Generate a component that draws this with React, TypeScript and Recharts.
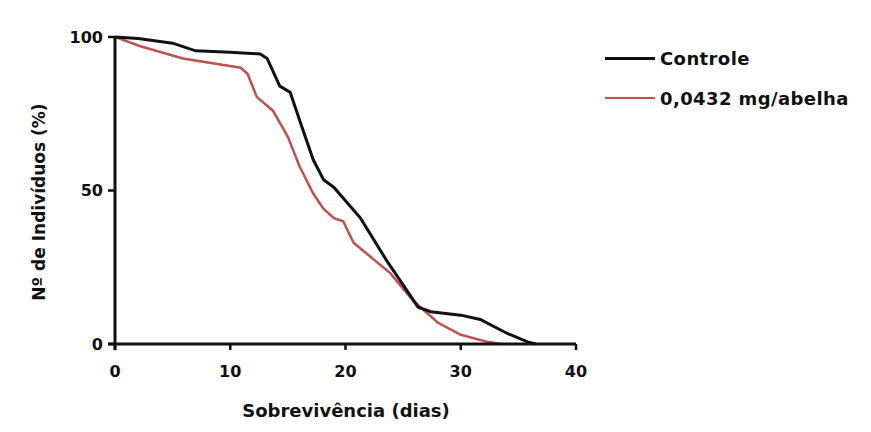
import React from "react";
import { LineChart, Line, XAxis, YAxis, ReferenceLine } from "recharts";

// survival curves (days, % alive)
const controlDays = [0, 2, 5, 7, 10, 12.6, 13.2, 14.3, 15.2, 16.1, 17.2, 18.1, 19, 21.3, 23.6, 24.5, 26.3, 27.4, 30, 31.7, 34, 35.8, 36.5];
const controlPct = [100, 99.5, 98, 95.5, 95, 94.5, 93, 84, 82, 72, 60, 53.5, 51, 41, 27, 22, 12, 10.5, 9.4, 8, 3.5, 0.7, 0];

const doseDays = [0, 2.2, 5.9, 10.9, 11.5, 12.3, 13.7, 15, 16, 17.2, 18.1, 19, 19.8, 20.7, 23.9, 25.9, 28, 30, 32.3, 33.5];
const dosePct = [100, 97, 93, 90, 88, 80.5, 76, 67.5, 58, 49, 44, 41, 40, 33, 23, 14, 7, 3, 0.7, 0];

const xTicks = [0, 10, 20, 30, 40];
const yTicks = [0, 50, 100];
const seriesNames = ["Controle", "0,0432 mg/abelha"];
const seriesColors = ["#111111", "#c0504d"];
const xTitle = "Sobrevivência (dias)";
const yTitle = "Nº de Indivíduos (%)";

const toPoints = (xs: number[], ys: number[]) => xs.map((x, i) => ({ x, y: ys[i] }));

const font = "'DejaVu Sans', sans-serif";
const tickStyle = { fill: "#111", fontSize: 16, fontWeight: 700, fontFamily: font };

export default function App() {
  const control = toPoints(controlDays, controlPct);
  const dose = toPoints(doseDays, dosePct);

  return (
    <div style={{ position: "absolute", left: 0, top: 0, width: 871, height: 432, background: "#fff", fontFamily: font }}>
      <LineChart width={871} height={432} margin={{ top: 37, right: 295, bottom: 10, left: 75 }}>
        <XAxis
          dataKey="x"
          type="number"
          domain={[0, 40]}
          ticks={xTicks}
          allowDataOverflow
          height={78}
          stroke="#111"
          axisLine={{ strokeWidth: 3 }}
          tickLine={{ strokeWidth: 2.5 }}
          tickSize={6}
          tickMargin={16}
          tick={tickStyle}
          label={{
            content: () => (
              <text x={346} y={410} textAnchor="middle" dominantBaseline="central" fill="#111" fontSize={18} fontWeight={700} fontFamily={font}>
                {xTitle}
              </text>
            ),
          }}
        />
        <YAxis
          dataKey="y"
          type="number"
          domain={[0, 100]}
          ticks={yTicks}
          width={40}
          stroke="#111"
          axisLine={{ strokeWidth: 3 }}
          tickLine={{ strokeWidth: 2.5 }}
          tickSize={7}
          tickMargin={5}
          tick={tickStyle}
          label={{
            content: () => (
              <text x={39} y={202} transform="rotate(-90, 39, 202)" textAnchor="middle" dominantBaseline="central" fill="#111" fontSize={17} fontWeight={700} fontFamily={font}>
                {yTitle}
              </text>
            ),
          }}
        />
        <ReferenceLine segment={[{ x: -0.6, y: 0 }, { x: 0, y: 0 }]} stroke="#111" strokeWidth={3} ifOverflow="visible" />
        <ReferenceLine segment={[{ x: 0, y: 0 }, { x: 0, y: -2 }]} stroke="#111" strokeWidth={3} ifOverflow="visible" />
        <Line data={dose} dataKey="y" type="linear" stroke={seriesColors[1]} strokeWidth={2.5} dot={false} isAnimationActive={false} />
        <Line data={control} dataKey="y" type="linear" stroke={seriesColors[0]} strokeWidth={3} dot={false} isAnimationActive={false} />
      </LineChart>
      <div style={{ position: "absolute", left: 605, top: 38 }}>
        {seriesNames.map((name, i) => (
          <div key={name} style={{ display: "flex", alignItems: "center", height: 40 }}>
            <div style={{ width: 50, height: i === 0 ? 3 : 2.5, background: seriesColors[i], marginRight: 5 }} />
            <span style={{ fontSize: 18, fontWeight: 700, color: "#111", letterSpacing: 0.4 }}>{name}</span>
          </div>
        ))}
      </div>
    </div>
  );
}
